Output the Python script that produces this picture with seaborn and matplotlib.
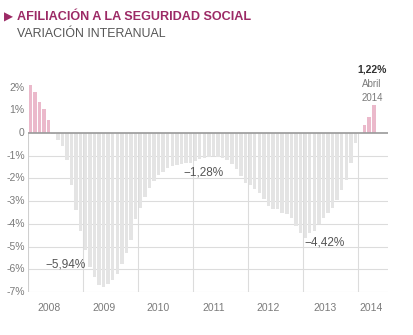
import matplotlib
matplotlib.use("Agg")
import matplotlib.pyplot as plt
import seaborn as sns
import pandas as pd
import numpy as np

# ---- data (monthly year-on-year variation, %) ----
years = ["2008", "2009", "2010", "2011", "2012", "2013", "2014"]
v2008 = [2.1, 1.8, 1.37, 1.05, 0.57, -0.05, -0.3, -0.55, -1.2, -2.3, -3.4, -4.3]
v2009 = [-5.15, -5.9, -6.35, -6.7, -6.8, -6.65, -6.45, -6.2, -5.75, -5.3, -4.7, -3.8]
v2010 = [-3.3, -2.8, -2.4, -2.1, -1.85, -1.7, -1.55, -1.45, -1.4, -1.35, -1.3, -1.3]
v2011 = [-1.25, -1.15, -1.1, -1.05, -1.0, -1.05, -1.1, -1.2, -1.35, -1.6, -1.9, -2.2]
v2012 = [-2.3, -2.45, -2.65, -2.9, -3.2, -3.35, -3.35, -3.5, -3.55, -3.75, -4.1, -4.42]
v2013 = [-4.6, -4.42, -4.3, -4.0, -3.75, -3.5, -3.3, -2.95, -2.5, -2.05, -1.3, -0.45]
v2014 = [0.02, 0.35, 0.7, 1.22]
ytick_vals = [2, 1, 0, -1, -2, -3, -4, -5, -6, -7]
ytick_labels = ["2%", "1%", "0", "-1%", "-2%", "-3%", "-4%", "-5%", "-6%", "-7%"]
annotations = [("\u22125,94%", 7.8, -5.8), ("\u22121,28%", 37.9, -1.72), ("\u22124,42%", 64.3, -4.8)]

values = v2008 + v2009 + v2010 + v2011 + v2012 + v2013 + v2014
df = pd.DataFrame({"idx": np.arange(len(values)), "val": values})
df["sign"] = np.where(df["val"] >= 0, "pos", "neg")

sns.set_style("white")
plt.rcParams["font.family"] = ["Liberation Sans", "DejaVu Sans"]

GRID = "#dcdcdc"
TXT = "#7a7a7a"
TITLE = "#9c2a66"

fig = plt.figure(figsize=(4.14, 3.35), dpi=100)
ax = fig.add_axes([28 / 414, 1 - 292 / 335, 360 / 414, 218 / 335])

xmax = 78.1
ymin, ymax = -7, 2.6

# grid lines (below zero only)
for yv in ytick_vals:
    if yv < 0:
        ax.hlines(yv, -0.5, xmax, color=GRID, lw=0.8, zorder=0)
for k in range(1, len(years)):
    ax.vlines(12 * k - 0.5, ymin, 0, color=GRID, lw=0.8, zorder=3)
ax.vlines(-0.5, ymin, 0, color="#cfcfcf", lw=0.8, zorder=3)

sns.barplot(data=df, x="idx", y="val", hue="sign",
            palette={"pos": "#ebb9cb", "neg": "#e4e4e4"},
            dodge=False, width=0.76, saturation=1, legend=False,
            edgecolor="none", ax=ax, zorder=2)

# zero line
ax.hlines(0, -0.5, xmax, color="#9a9a9a", lw=1.2, zorder=4)

ax.set_xlim(-0.5, xmax)
ax.set_ylim(ymin, ymax)
ax.set_xticks([])
ax.set_yticks([])
ax.set_xlabel("")
ax.set_ylabel("")
for s in ax.spines.values():
    s.set_visible(False)

# y tick labels
for yv, lab in zip(ytick_vals, ytick_labels):
    ax.text(-1.2, yv, lab, ha="right", va="center", fontsize=7.5, color=TXT, clip_on=False)

# year labels
year_pos = [4, 16, 28, 40, 52, 64.3, 74.5]
for yp, ylab in zip(year_pos, years):
    ax.text(yp, -7.7, ylab, ha="center", va="center", fontsize=7.5, color=TXT, clip_on=False)

# annotations
for txt, xp, yp in annotations:
    ax.text(xp, yp, txt, ha="center", va="center", fontsize=8.5, color="#555555", zorder=6)

ax.text(74.6, 2.8, "1,22%", ha="center", va="center", fontsize=7.5, fontweight="bold",
        color="#333333", clip_on=False)
ax.text(74.6, 2.17, "Abril", ha="center", va="center", fontsize=7, color=TXT, clip_on=False)
ax.text(74.6, 1.55, "2014", ha="center", va="center", fontsize=7, color=TXT, clip_on=False)

# titles
fig.text(4 / 414, 1 - 17 / 335, "\u25B6", ha="left", va="center", fontsize=8.5, color=TITLE,
         family=["DejaVu Sans"])
fig.text(17 / 414, 1 - 16.5 / 335, "AFILIACIÓN A LA SEGURIDAD SOCIAL", ha="left", va="center",
         fontsize=9.1, fontweight="bold", color=TITLE)
fig.text(17 / 414, 1 - 34 / 335, "VARIACIÓN INTERANUAL", ha="left", va="center",
         fontsize=8.9, color="#555555")

fig.savefig("out.png", dpi=100)
